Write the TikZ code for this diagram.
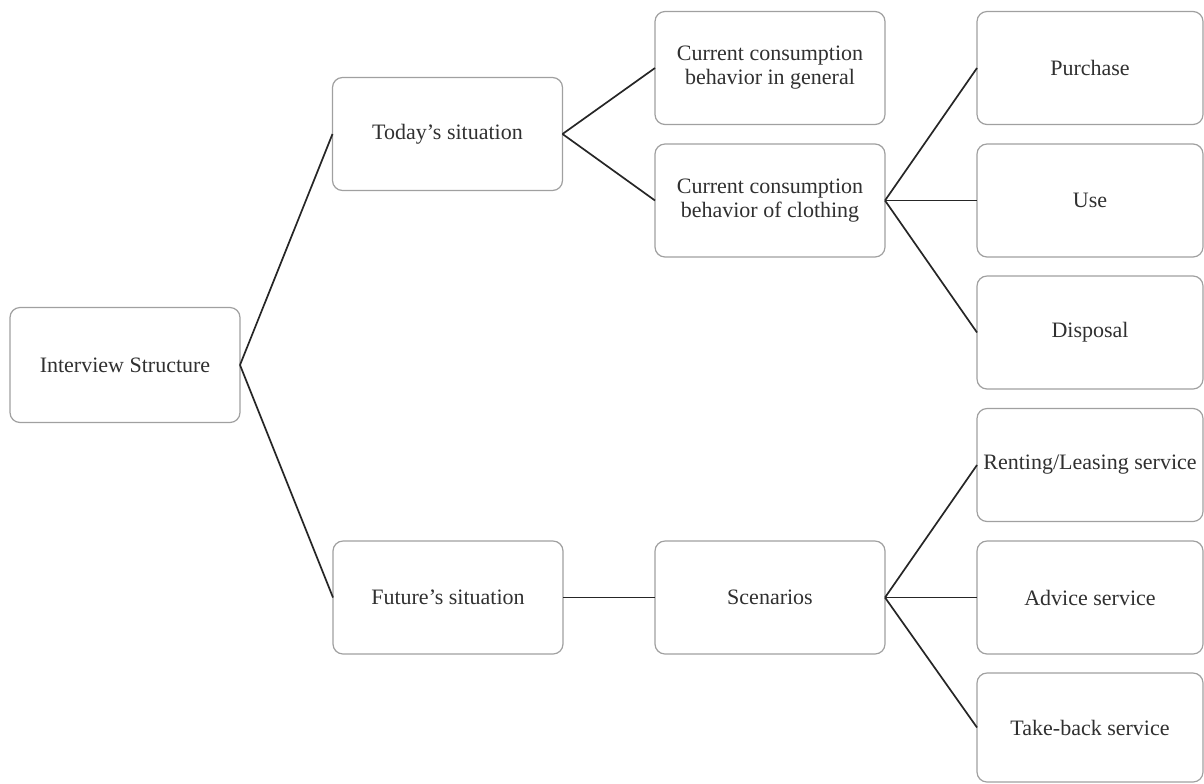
\documentclass[tikz,border=0pt]{standalone}
\usepackage{fontspec}
\setmainfont{Liberation Serif}[Ligatures=ResetAll]
\definecolor{boxline}{HTML}{A0A0A0}
\definecolor{txt}{HTML}{303030}
\tikzset{
  box/.style={draw=boxline, line width=0.6pt, rounded corners=5pt, fill=white,
    minimum width=115pt, minimum height=56.5pt, inner sep=0pt, outer sep=0pt,
    align=center, text=txt, font=\fontsize{11}{12}\selectfont},
  rbox/.style={box, minimum width=113pt},
  link/.style={draw=black!85, line width=0.85pt}
}
\begin{document}
\begin{tikzpicture}[x=0.5pt,y=-0.5pt]
\useasboundingbox (0,0) rectangle (1204,783);
\node[box, minimum height=57.5pt] (is) at (125,365) {Interview Structure};
\node[box] (today) at (447.5,134) {Today's situation};
\node[box] (future) at (448,597.5) {Future's situation};
\node[box] (gen) at (770,68) {Current consumption\\behavior in general};
\node[box] (clo) at (770,200.5) {Current consumption\\behavior of clothing};
\node[box] (scen) at (770,597.5) {Scenarios};
\node[rbox] (pur) at (1090,68) {Purchase};
\node[rbox] (use) at (1090,200.5) {Use};
\node[rbox] (disp) at (1090,332.5) {Disposal};
\node[rbox] (rent) at (1090,465) {Renting/Leasing service};
\node[rbox] (adv) at (1090,597.5) {Advice service};
\node[rbox, minimum height=54.5pt] (take) at (1090,727.5) {Take-back service};
\draw[link] (is.east) -- (today.west);
\draw[link] (is.east) -- (future.west);
\draw[link] (today.east) -- (gen.west);
\draw[link] (today.east) -- (clo.west);
\draw[link] (future.east) -- (scen.west);
\draw[link] (clo.east) -- (pur.west);
\draw[link] (clo.east) -- (use.west);
\draw[link] (clo.east) -- (disp.west);
\draw[link] (scen.east) -- (rent.west);
\draw[link] (scen.east) -- (adv.west);
\draw[link] (scen.east) -- (take.west);
\end{tikzpicture}
\end{document}
